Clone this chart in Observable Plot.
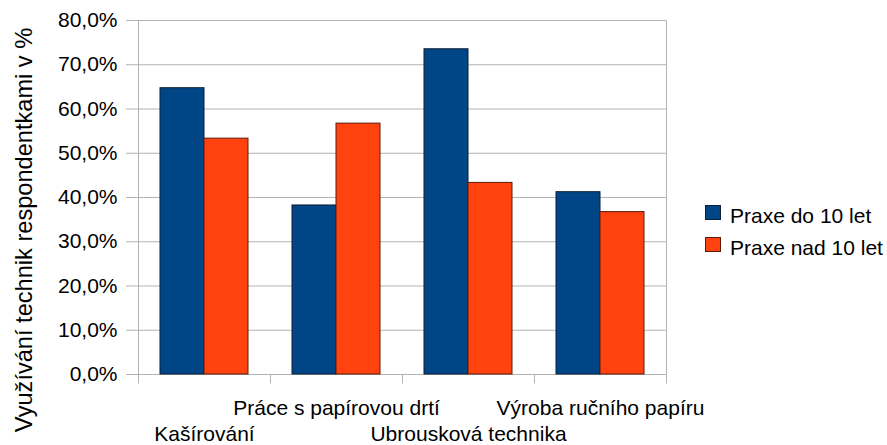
<!DOCTYPE html>
<html>
<head>
<meta charset="utf-8">
<script src="https://cdn.jsdelivr.net/npm/d3@7"></script>
<script src="https://cdn.jsdelivr.net/npm/@observablehq/plot@0.6"></script>
<style>
  body { margin: 0; background: #fff; }
  #wrap { position: relative; width: 887px; height: 445px; font-family: "Liberation Sans", Arial, sans-serif; color: #000; overflow: hidden; }
  #wrap svg { display: block; }
  .ylabel { position: absolute; left: 24px; top: 230px; transform: translate(-50%, -50%) rotate(-90deg); white-space: nowrap; font-size: 23.6px; line-height: 1.117; }
  .sw { position: absolute; width: 14px; height: 13px; border: 1px solid; }
  .lt { position: absolute; font-size: 21px; line-height: 21px; white-space: nowrap; }
</style>
</head>
<body>
<div id="wrap"></div>
<script>
const categories = ["Kašírování", "Práce s papírovou drtí", "Ubrousková technika", "Výroba ručního papíru"];
const seriesNames = ["Praxe do 10 let", "Praxe nad 10 let"];
const praxeDo10 = [64.7, 38.2, 73.5, 41.2];
const praxeNad10 = [53.3, 56.7, 43.3, 36.7];
const yTicks = [0, 10, 20, 30, 40, 50, 60, 70, 80];
const yTitle = "Využívání technik respondentkami v %";
const fills = ["#004586", "#ff420e"];
const outlines = ["#0b2035", "#5e1a08"];

const rows = categories.flatMap((c, i) => [
  {cat: c, series: seriesNames[0], value: praxeDo10[i]},
  {cat: c, series: seriesNames[1], value: praxeNad10[i]}
]);
const labelRows = categories.map((c, i) => ({cat: c, row: i % 2}));
const fmt = d => d.toFixed(1).replace(".", ",") + "%";
const gridColor = "#b3b3b3";

const chart = Plot.plot({
  width: 887, height: 445,
  marginLeft: 137, marginRight: 220, marginTop: 20, marginBottom: 71,
  style: {fontFamily: '"Liberation Sans", Arial, sans-serif', fontSize: "21px", background: "#fff", color: "#000", overflow: "visible"},
  fx: {domain: categories, padding: 0, axis: null, label: null},
  x: {domain: seriesNames, paddingInner: 0, paddingOuter: 0.5, axis: null},
  y: {domain: [0, 80], axis: null},
  marks: [
    Plot.gridY(yTicks, {stroke: gridColor, strokeOpacity: 1}),
    Plot.axisY(yTicks, {tickSize: 12, tickPadding: 9, tickFormat: fmt, stroke: gridColor, fill: "#000", fontSize: 21, label: null}),
    Plot.barY(rows.filter(d => d.series === seriesNames[0]), {fx: "cat", x: "series", y: "value", fill: fills[0], stroke: outlines[0], strokeWidth: 1}),
    Plot.barY(rows.filter(d => d.series === seriesNames[1]), {fx: "cat", x: "series", y: "value", fill: fills[1], stroke: outlines[1], strokeWidth: 1}),
    Plot.text(labelRows.filter(d => d.row === 1), {fx: "cat", text: "cat", frameAnchor: "bottom", lineAnchor: "middle", dy: 34, fontSize: 21, fill: "#000"}),
    Plot.text(labelRows.filter(d => d.row === 0), {fx: "cat", text: "cat", frameAnchor: "bottom", lineAnchor: "middle", dy: 60, fontSize: 21, fill: "#000"})
  ]
});

const wrap = document.getElementById("wrap");
wrap.appendChild(chart);

// frame lines and category boundary ticks from the library's scales
const svgEl = chart.tagName.toLowerCase() === "svg" ? chart : chart.querySelector("svg");
const fx = chart.scale("fx"), ys = chart.scale("y");
const bandStart = c => fx.apply ? fx.apply(c) : d3.scaleBand(fx.domain, fx.range).padding(0)(c);
const bw = fx.bandwidth;
const yTop = ys.apply(80), yBase = ys.apply(0);
const tickLen = 9;
const g = d3.select(svgEl).append("g").attr("stroke", gridColor).attr("stroke-width", 1);
const edges = categories.map(bandStart).concat([bandStart(categories[categories.length - 1]) + bw]);
edges.forEach((x, i) => {
  const xx = Math.round(x) + 0.5;
  const outer = i === 0 || i === edges.length - 1;
  g.append("line").attr("x1", xx).attr("x2", xx)
    .attr("y1", outer ? Math.round(yTop) + 0.5 : Math.round(yBase) + 0.5)
    .attr("y2", Math.round(yBase) + 0.5 + tickLen);
});

// y title
const yl = document.createElement("div");
yl.className = "ylabel";
yl.textContent = yTitle;
wrap.appendChild(yl);

// legend
seriesNames.forEach((s, i) => {
  const sw = document.createElement("div");
  sw.className = "sw";
  sw.style.left = "705px";
  sw.style.top = (205 + i * 32) + "px";
  sw.style.background = fills[i];
  sw.style.borderColor = outlines[i];
  wrap.appendChild(sw);
  const t = document.createElement("div");
  t.className = "lt";
  t.style.left = "730px";
  t.style.top = (205 + i * 32) + "px";
  t.textContent = s;
  wrap.appendChild(t);
});
</script>
</body>
</html>
